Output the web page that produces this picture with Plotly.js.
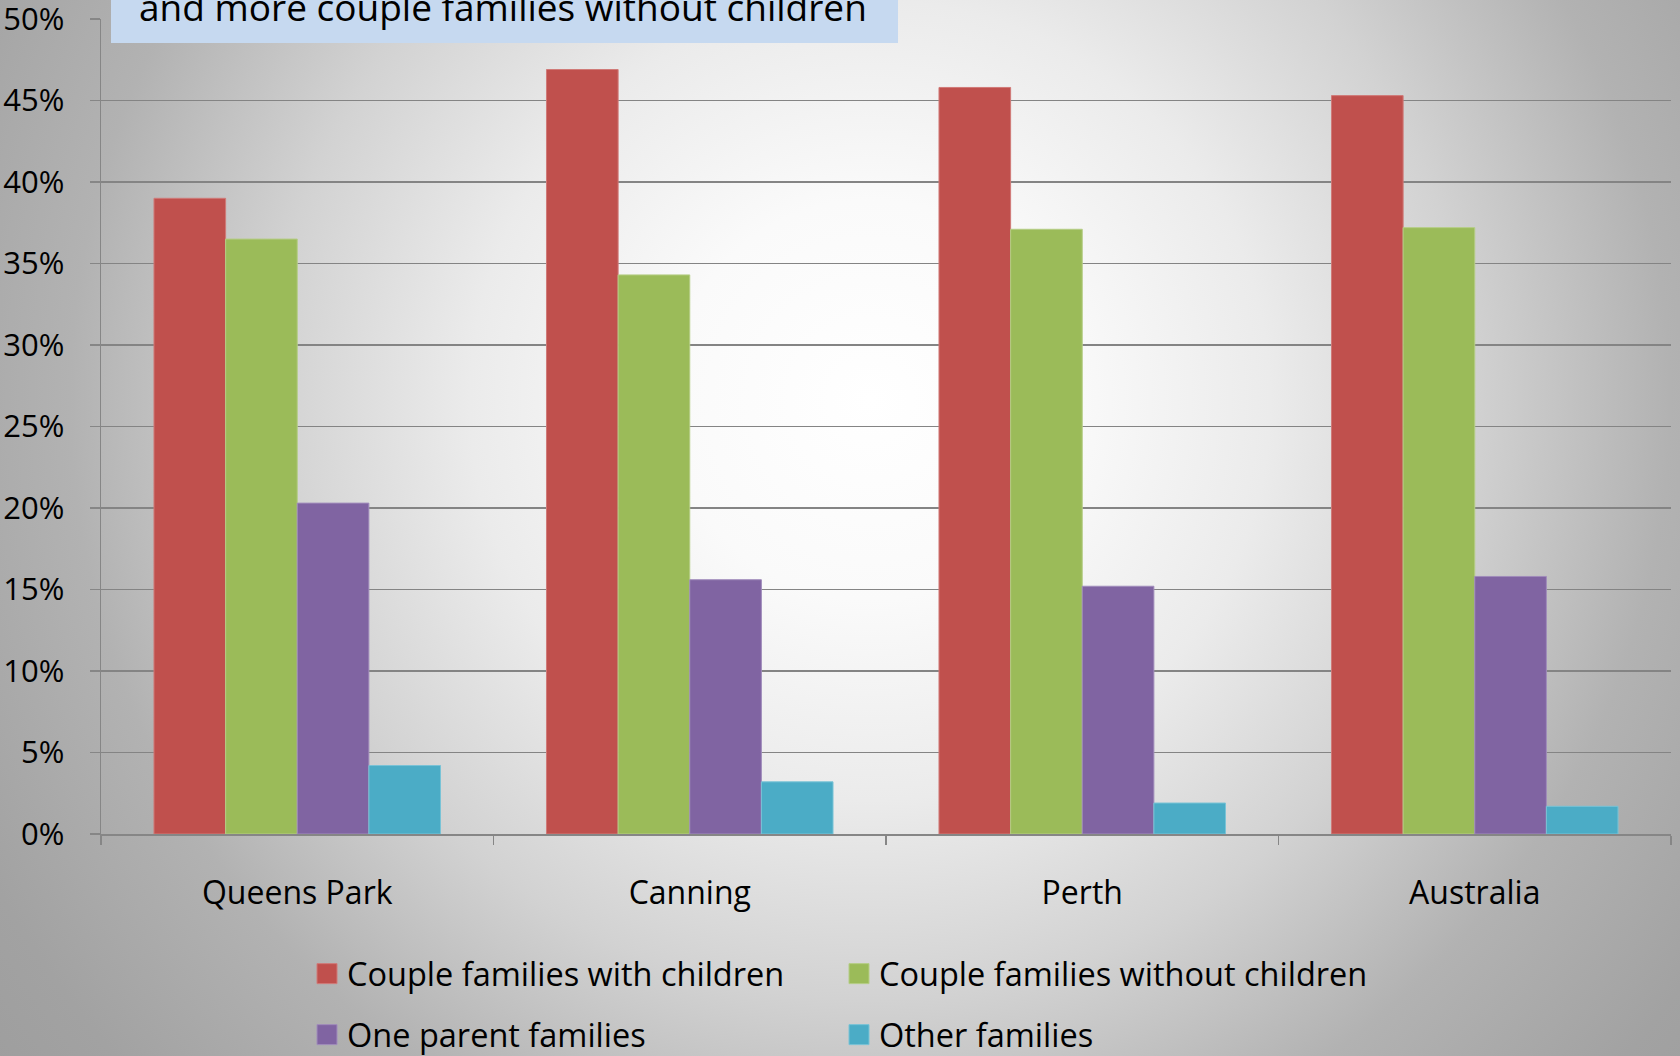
<!DOCTYPE html>
<html>
<head>
<meta charset="utf-8">
<script src="https://cdn.plot.ly/plotly-3.0.1.min.js"></script>
<style>
  html, body { margin: 0; padding: 0; }
  #chart {
    width: 1680px; height: 1056px;
    background: radial-gradient(circle at 870px 400px, #ffffff 0px, #fafafa 200px, #ebebeb 400px, #d2d2d2 600px, #b2b2b2 800px, #a2a2a2 1000px, #9c9c9c 1150px);
  }
</style>
</head>
<body>
<div id="chart"></div>
<script>
// ---- data ----
const categories = ["Queens Park", "Canning", "Perth", "Australia"];
const seriesNames = ["Couple families with children", "Couple families without children", "One parent families", "Other families"];
const coupleWithChildren    = [39.0, 46.9, 45.8, 45.3];
const coupleWithoutChildren = [36.5, 34.3, 37.1, 37.2];
const oneParent             = [20.3, 15.6, 15.2, 15.8];
const otherFamilies         = [4.2, 3.2, 1.9, 1.7];
const yTickVals   = [0, 5, 10, 15, 20, 25, 30, 35, 40, 45, 50];
const yTickLabels = ["0%", "5%", "10%", "15%", "20%", "25%", "30%", "35%", "40%", "45%", "50%"];
const titleLine = "and more couple families without children";

// ---- styling ----
const FONT = "'Open Sans', sans-serif";
const colors = ["#C0504D", "#9BBB59", "#8064A2", "#4BACC6"];
const edge = ["#D07A78", "#B5CD85", "#A08CBB", "#79C3D6"];
const W = 1680, H = 1056;
const M = { l: 101, r: 9, t: 19, b: 222, autoexpand: false };
const pw = W - M.l - M.r, ph = H - M.t - M.b;
const px2x = px => (px - M.l) / pw;
const px2y = py => (H - M.b - py) / ph;

const values = [coupleWithChildren, coupleWithoutChildren, oneParent, otherFamilies];
const legendNames = ["legend", "legend2", "legend3", "legend4"];
const traces = values.map((v, i) => ({
  type: "bar",
  name: seriesNames[i],
  x: categories,
  y: v,
  marker: { color: colors[i], line: { color: edge[i], width: 1 } },
  legend: legendNames[i],
  hoverinfo: "x+y+name"
}));

const legendPos = [
  { x: 307, y: 974 }, { x: 839, y: 974 },
  { x: 307, y: 1035 }, { x: 839, y: 1035 }
];
function mkLegend(p) {
  return {
    x: px2x(p.x), y: px2y(p.y), xanchor: "left", yanchor: "middle",
    orientation: "h", bgcolor: "rgba(0,0,0,0)", borderwidth: 0,
    font: { family: FONT, size: 32.5, color: "#000" }
  };
}

const layout = {
  width: W, height: H,
  margin: M,
  paper_bgcolor: "rgba(0,0,0,0)",
  plot_bgcolor: "rgba(0,0,0,0)",
  barmode: "group",
  bargap: 0.27,
  bargroupgap: 0,
  showlegend: true,
  title: {
    text: titleLine,
    font: { family: FONT, size: 37, color: "#000" },
    xref: "container", yref: "container",
    x: 139 / W, xanchor: "left",
    y: 1 - 21 / H, yanchor: "bottom"
  },
  xaxis: {
    type: "category",
    range: [-0.5, 3.5],
    tickson: "boundaries",
    ticks: "outside", ticklen: 9, tickwidth: 1.5, tickcolor: "#868686",
    showline: true, linecolor: "#868686", linewidth: 1.5,
    showgrid: false, zeroline: false,
    tickfont: { family: FONT, size: 32, color: "#000" },
    ticklabelstandoff: 30
  },
  yaxis: {
    range: [0, 50],
    tickvals: yTickVals, ticktext: yTickLabels,
    ticks: "outside", ticklen: 10, tickwidth: 1.5, tickcolor: "#868686",
    showline: true, linecolor: "#868686", linewidth: 1.5,
    showgrid: true, gridcolor: "#848484", gridwidth: 1.6,
    zeroline: false,
    tickfont: { family: FONT, size: 31, color: "#000" },
    ticklabelstandoff: 19,
    ticklabeloverflow: "allow"
  },
  shapes: [{
    type: "rect", xref: "paper", yref: "paper", layer: "above",
    x0: px2x(111), x1: px2x(898), y0: px2y(43), y1: px2y(-30),
    fillcolor: "#C6D9F0", line: { width: 0 }
  }],
  legend: mkLegend(legendPos[0]),
  legend2: mkLegend(legendPos[1]),
  legend3: mkLegend(legendPos[2]),
  legend4: mkLegend(legendPos[3])
};

Plotly.newPlot("chart", traces, layout, { displayModeBar: false, staticPlot: true }).then(gd => {
  // enlarge legend swatches to match the reference's larger square keys
  document.querySelectorAll(".legendpoints path").forEach(p => {
    p.setAttribute("d", "M10,10H-10V-10H10Z");
  });
});
</script>
</body>
</html>
